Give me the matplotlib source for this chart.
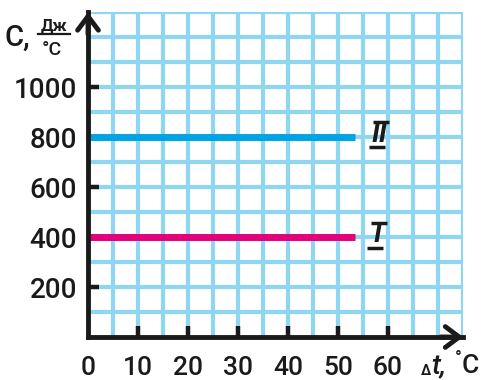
import matplotlib.pyplot as plt
import numpy as np

plt.rcParams['font.family'] = ['Roboto', 'Liberation Sans', 'DejaVu Sans']

# data
temps_I = [0, 53.4]
heat_I = [400, 400]
temps_II = [0, 53.4]
heat_II = [800, 800]
x_ticks = [0, 10, 20, 30, 40, 50, 60]
y_ticks = [200, 400, 600, 800, 1000]

ink = '#1a1a1a'
grid_col = '#8ed6f2'
wt = 'medium'
fig = plt.figure(figsize=(4.84, 3.8), dpi=100)
ax = fig.add_axes([88/484, 43/380, 375/484, 325/380])
ax.set_xlim(0, 75)
ax.set_ylim(0, 1300)

for gx in np.arange(5, 76, 5):
    ax.axvline(gx, color=grid_col, lw=3, zorder=1)
for gy in np.arange(100, 1301, 100):
    ax.axhline(gy, color=grid_col, lw=3, zorder=1)

ax.plot(temps_II, heat_II, color='#00a3e4', lw=5, solid_capstyle='butt', zorder=3)
ax.plot(temps_I, heat_I, color='#e2007d', lw=5, solid_capstyle='butt', zorder=3)

for s in ['top', 'right']:
    ax.spines[s].set_visible(False)
for s in ['left', 'bottom']:
    ax.spines[s].set_linewidth(3.5)
    ax.spines[s].set_color(ink)
    ax.spines[s].set_zorder(5)

ax.set_xticks(x_ticks[1:])
ax.set_yticks(y_ticks)
ax.tick_params(direction='in', length=8, width=3.2, color=ink, labelsize=20, pad=8)
ax.tick_params(axis='x', labelbottom=False)
for lbl in ax.get_yticklabels():
    lbl.set_fontweight(wt)
    lbl.set_color(ink)
for xv in x_ticks:
    ax.text(xv, -152, str(xv), ha='center', va='baseline', fontsize=19,
            fontweight=wt, color=ink)

# arrows
arrow = dict(arrowstyle='->,head_length=1.0,head_width=0.75', lw=3.5, color=ink)
ax.annotate('', xy=(0, 1310), xytext=(0, 1200), arrowprops=arrow,
            annotation_clip=False, zorder=6)
ax.annotate('', xy=(75.6, 0), xytext=(70, 0), arrowprops=arrow,
            annotation_clip=False, zorder=6)

# curve labels
for lab, yv, xc in [('I', 408, 57.8), ('II', 812, 58.2)]:
    ax.text(xc, yv, lab, fontsize=20, style='italic', fontweight='bold',
            ha='center', va='center', color=ink, zorder=6)
    ax.plot([xc - 1.2, xc + 2.0], [yv + 50, yv + 50], color=ink, lw=2.5,
            solid_capstyle='butt', zorder=6)
    ax.plot([xc - 2.0, xc + 1.2], [yv - 50, yv - 50], color=ink, lw=2.5,
            solid_capstyle='butt', zorder=6)

# axis labels
fig.text(5/484, 1 - 46/380, 'C,', fontsize=21, fontweight=wt, ha='left',
         va='baseline', color=ink)
fig.text(54/484, 1 - 31/380, 'Дж', fontsize=12, fontweight='bold', ha='center',
         va='baseline', color=ink)
fig.add_artist(plt.Line2D([38/484, 70/484], [1 - 34/380, 1 - 34/380], color=ink, lw=1.6))
fig.text(52/484, 1 - 55/380, '°C', fontsize=14, fontweight=wt, ha='center',
         va='baseline', color=ink)

fig.text(421/484, 1 - 375/380, 'Δ', fontsize=10, fontweight='bold', ha='left',
         va='baseline', color=ink)
fig.text(431/484, 1 - 374/380, 't,', fontsize=20, style='italic', fontweight=wt,
         ha='left', va='baseline', color=ink)
fig.text(455/484, 1 - 364/380, '°', fontsize=13, fontweight=wt, ha='left',
         va='baseline', color=ink)
fig.text(462/484, 1 - 373/380, 'C', fontsize=19, fontweight=wt, ha='left',
         va='baseline', color=ink)

fig.savefig('out.png', dpi=100)
